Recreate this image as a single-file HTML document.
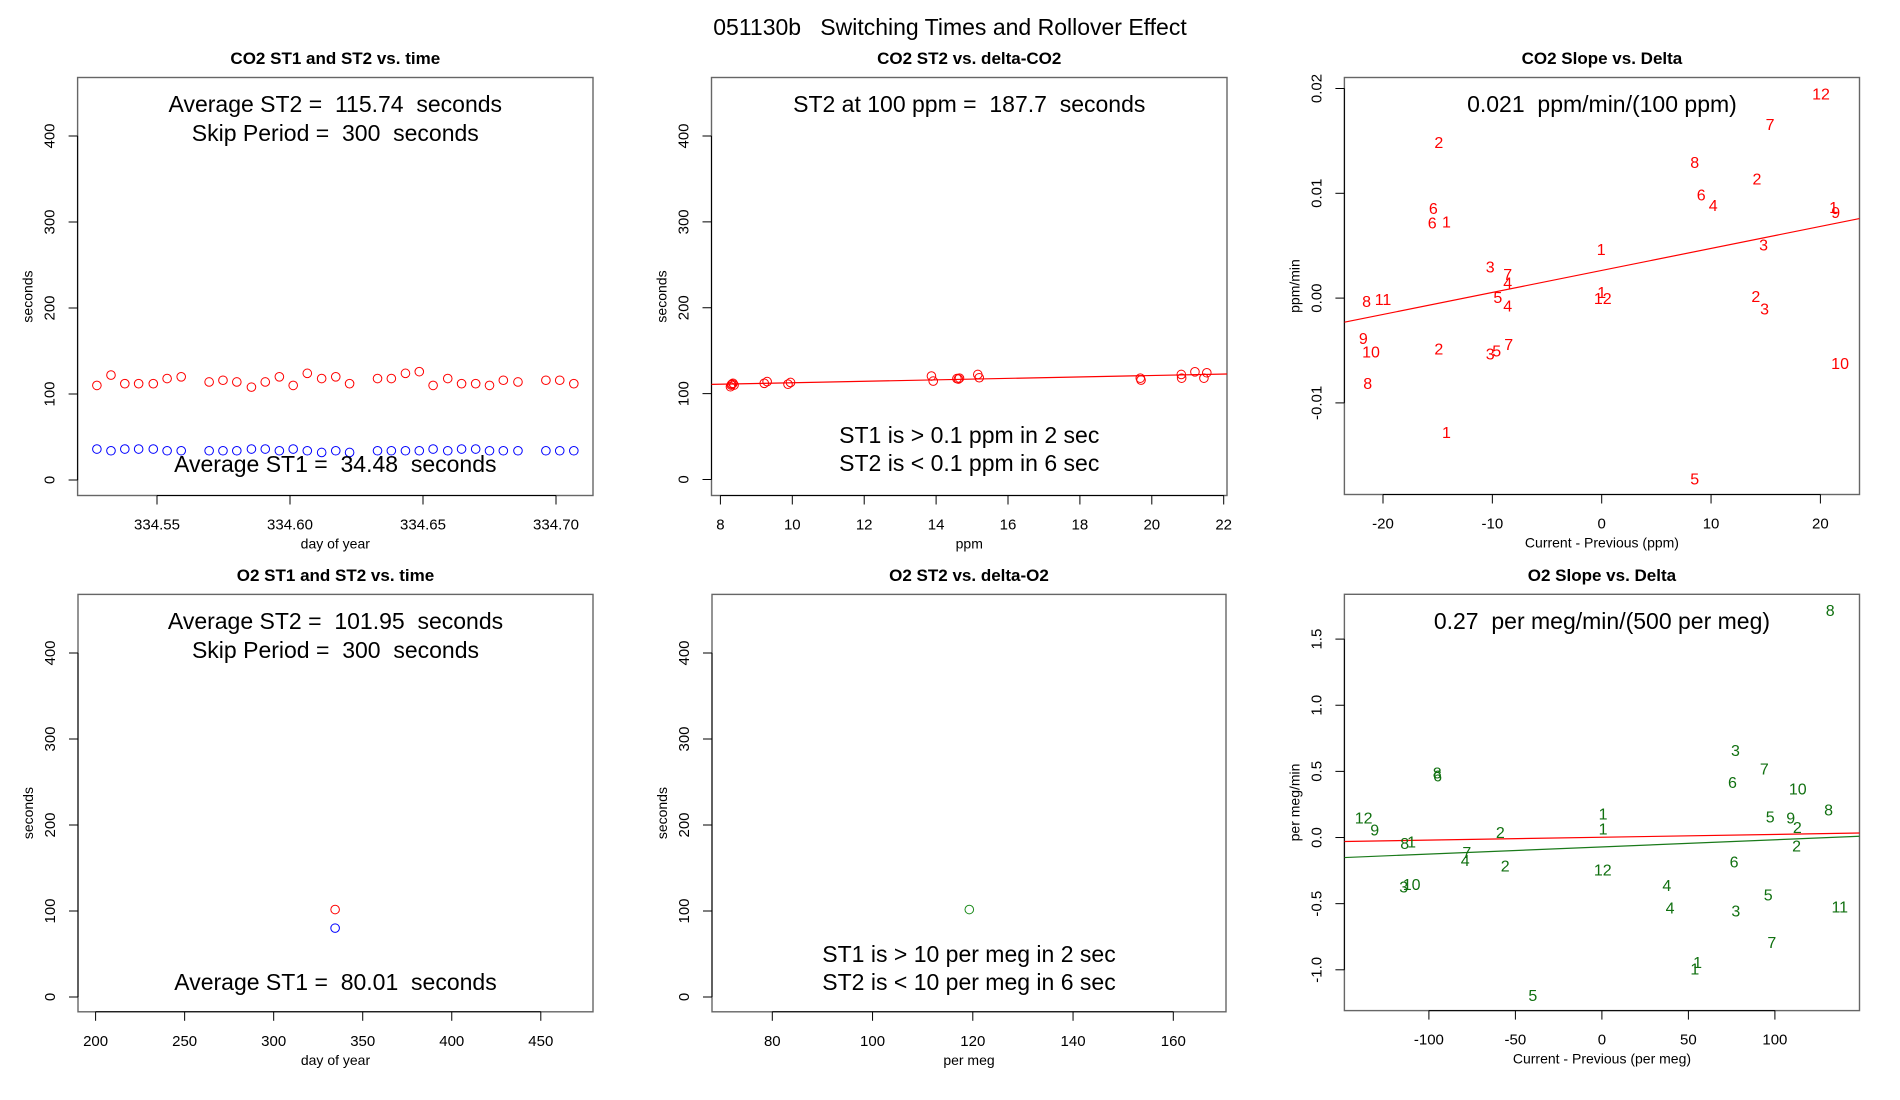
<!DOCTYPE html>
<html><head><meta charset="utf-8"><title>051130b Switching Times and Rollover Effect</title>
<style>
html,body{margin:0;padding:0;background:#fff;width:1900px;height:1100px;overflow:hidden}
svg{display:block;font-family:"Liberation Sans",sans-serif}
svg text{white-space:pre}
</style></head>
<body>
<svg id="fig" xmlns="http://www.w3.org/2000/svg" xml:space="preserve" width="1900" height="1100" viewBox="0 0 1900 1100">
<rect x="0" y="0" width="1900" height="1100" fill="#fff"/>
<text x="950" y="35" font-size="23" text-anchor="middle">051130b   Switching Times and Rollover Effect</text>
</svg>
<script>
// ---- Panel 1: CO2 ST1/ST2 vs time ----
const co2Days = [334.5274,334.5327,334.5379,334.5431,334.5486,334.5538,334.5591,334.5696,334.5748,334.5800,334.5855,334.5907,334.5960,334.6012,334.6065,334.6119,334.6172,334.6224,334.6329,334.6381,334.6434,334.6486,334.6538,334.6593,334.6645,334.6698,334.6750,334.6802,334.6857,334.6962,334.7014,334.7067];
const co2St2 = [110,122,112,112,112,118,120,114,116,114,108,114,120,110,124,118,120,112,118,118,124,126,110,118,112,112,110,116,114,116,116,112];
const co2St1 = [36,34,36,36,36,34,34,34,34,34,36,36,34,36,34,32,34,32,34,34,34,34,36,34,36,36,34,34,34,34,34,34];
const p1XTicks = [334.55,334.60,334.65,334.70];
const p1XTickLabels = ["334.55","334.60","334.65","334.70"];
const secTicks = [0,100,200,300,400];
const secTickLabels = ["0","100","200","300","400"];
// ---- Panel 2: CO2 ST2 vs delta ----
const co2Delta = [8.28,8.30,8.32,8.35,8.38,9.22,9.30,9.88,9.95,13.87,13.92,14.58,14.62,14.65,15.16,15.20,19.68,19.70,20.82,20.83,21.20,21.45,21.53];
const co2DeltaSt2 = [108,110,111,112,110,112,114,111,113,120.5,114.6,117.5,117,118,122.3,118.5,118,115.8,122.3,118,125.4,118,124.3];
const p2Fit = [104.2,0.846];
const p2XTicks = [8,10,12,14,16,18,20,22];
const p2XTickLabels = ["8","10","12","14","16","18","20","22"];
// ---- Panel 3: CO2 slope vs delta ----
const c3Labels = ["12","7","2","8","2","6","4","1","9","6","6","1","3","1","3","7","4","1","12","5","4","2","3","8","11","9","10","2","3","5","7","10","8","1","5"];
const c3X = [20.06,15.4,-14.9,8.5,14.2,9.1,10.2,21.2,21.4,-15.4,-15.5,-14.2,14.8,-0.05,-10.2,-8.6,-8.6,0,0.1,-9.5,-8.6,14.1,14.9,-21.5,-20.0,-21.8,-21.1,-14.9,-10.2,-9.6,-8.5,21.8,-21.4,-14.2,8.5];
const c3Y = [0.0195,0.0166,0.0149,0.0130,0.0114,0.0099,0.0089,0.0087,0.0082,0.0086,0.0072,0.0073,0.0051,0.0047,0.0030,0.0023,0.0015,0.0006,0.0000,0.0001,-0.0007,0.0002,-0.0010,-0.0003,-0.0001,-0.0038,-0.0051,-0.0048,-0.0053,-0.0050,-0.0044,-0.0062,-0.0081,-0.0128,-0.0172];
const p3Fit = [0.00264,0.00021];
const p3XTicks = [-20,-10,0,10,20];
const p3XTickLabels = ["-20","-10","0","10","20"];
const p3YTicks = [-0.01,0.00,0.01,0.02];
const p3YTickLabels = ["-0.01","0.00","0.01","0.02"];
// ---- Panel 4: O2 ST1/ST2 vs time ----
const o2Days = [334.5];
const o2St2 = [101.7];
const o2St1 = [80.1];
const p4XTicks = [200,250,300,350,400,450];
const p4XTickLabels = ["200","250","300","350","400","450"];
// ---- Panel 5: O2 ST2 vs delta ----
const o2Delta = [119.3];
const o2DeltaSt2 = [101.7];
const p5XTicks = [80,100,120,140,160];
const p5XTickLabels = ["80","100","120","140","160"];
// ---- Panel 6: O2 slope vs delta ----
const o6Labels = ["8","3","7","6","10","8","5","9","2","2","8","6","12","9","8","1","1","1","2","7","4","2","12","6","3","10","4","4","5","3","11","7","1","1","5"];
const o6X = [132,77.2,93.9,75.5,113.2,131,97.3,109.1,113,112.5,-95.2,-95,-137.7,-131.3,-114,-110,0.7,0.7,-58.7,-78.1,-79,-55.9,0.5,76.4,-114.6,-110,37.5,39.4,96.1,77.4,137.5,98.2,55.3,53.7,-39.9];
const o6Y = [1.72,0.66,0.52,0.42,0.37,0.21,0.16,0.15,0.08,-0.06,0.49,0.47,0.15,0.06,-0.04,-0.03,0.18,0.07,0.04,-0.11,-0.17,-0.21,-0.24,-0.18,-0.37,-0.35,-0.36,-0.53,-0.43,-0.55,-0.52,-0.79,-0.94,-0.99,-1.19];
const p6FitRed = [0.002,0.000215];
const p6FitGreen = [-0.071,0.00054];
const p6XTicks = [-100,-50,0,50,100];
const p6XTickLabels = ["-100","-50","0","50","100"];
const p6YTicks = [-1.0,-0.5,0.0,0.5,1.0,1.5];
const p6YTickLabels = ["-1.0","-0.5","0.0","0.5","1.0","1.5"];

const NS = "http://www.w3.org/2000/svg";
const svg = document.getElementById("fig");
function mk(tag, attrs, parent){
  const e = document.createElementNS(NS, tag);
  for (const k in attrs) e.setAttribute(k, attrs[k]);
  (parent||svg).appendChild(e);
  return e;
}
function lin(d0,d1,p0,p1){ return v => p0 + (v-d0)*(p1-p0)/(d1-d0); }

function panel(cfg){
  const g = mk("g", {});
  
  
  const [L,T,R,B] = cfg.box;
  const cid = cfg.name + "-clip";
  const cp = mk("clipPath", {id: cid}, g);
  mk("rect", {x:L, y:T, width:R-L, height:B-T}, cp);
  const t = mk("text", {x:(L+R)/2, y:cfg.titleY, "font-size":17, "font-weight":"bold", "text-anchor":"middle"}, g);
  t.textContent = cfg.title;
  
  
  const box = mk("rect", {x:L, y:T, width:R-L, height:B-T, fill:"none", stroke:"#666", "stroke-width":1.4}, g);
  
  
  const xa = mk("g", {}, g);
  
  
  const xs = cfg.xs, ys = cfg.ys;
  mk("line", {x1:xs(cfg.xTicks[0]), x2:xs(cfg.xTicks[cfg.xTicks.length-1]), y1:B, y2:B, stroke:"#000", "stroke-width":1}, xa);
  cfg.xTicks.forEach((v,i)=>{
    const x = xs(v);
    mk("line", {x1:x, x2:x, y1:B, y2:B+9, stroke:"#000", "stroke-width":1}, xa);
    const tl = mk("text", {x:x, y:B+34, "font-size":15, "text-anchor":"middle"}, xa);
    tl.textContent = cfg.xTickLabels[i];
    
    
  });
  const xl = mk("text", {x:(L+R)/2, y:B+53, "font-size":14, "text-anchor":"middle"}, g);
  xl.textContent = cfg.xLabel;
  
  
  const ya = mk("g", {}, g);
  
  
  mk("line", {x1:L, x2:L, y1:ys(cfg.yTicks[0]), y2:ys(cfg.yTicks[cfg.yTicks.length-1]), stroke:"#000", "stroke-width":1}, ya);
  cfg.yTicks.forEach((v,i)=>{
    const y = ys(v);
    mk("line", {x1:L-9, x2:L, y1:y, y2:y, stroke:"#000", "stroke-width":1}, ya);
    const tl = mk("text", {x:L-23, y:y, "font-size":15, "text-anchor":"middle", transform:`rotate(-90 ${L-23} ${y})`}, ya);
    tl.textContent = cfg.yTickLabels[i];
    
    
  });
  const yc = (T+B)/2 + (cfg.yLabelShift||0);
  const yl = mk("text", {x:L-45, y:yc, "font-size":14, "text-anchor":"middle", transform:`rotate(-90 ${L-45} ${yc})`}, g);
  yl.textContent = cfg.yLabel;
  
  
  const plot = mk("g", {"clip-path":`url(#${cid})`}, g);
  
  
  (cfg.notes||[]).forEach(n=>{
    const tx = mk("text", {x:(L+R)/2, y:n[1], "font-size":23, "text-anchor":"middle"}, g);
    tx.textContent = n[0];
    
    
  });
  return {g, plot, xs, ys, L, R};
}
function circles(p, xs, ys, color, name){
  xs.forEach((xv,i)=>{
    const c = mk("ellipse", {cx:p.xs(xv), cy:p.ys(ys[i]), rx:4.3, ry:4.3, fill:"none", stroke:color, "stroke-width":1}, p.plot);
    
    
  });
}
function fitLine(p, fit, color, name){
  const x0 = p.xs.inv(p.L), x1 = p.xs.inv(p.R);
  const l = mk("line", {x1:p.L, x2:p.R, y1:p.ys(fit[0]+fit[1]*x0), y2:p.ys(fit[0]+fit[1]*x1), stroke:color, "stroke-width":1.2}, p.plot);
  
  
}
function labels(p, labs, xs, ys, color, name){
  labs.forEach((s,i)=>{
    const t = mk("text", {x:p.xs(xs[i]), y:p.ys(ys[i])+6, "font-size":16, "text-anchor":"middle", fill:color}, p.plot);
    t.textContent = s;
    
    
  });
}
function scale(d0,d1,p0,p1){ const f = lin(d0,d1,p0,p1); f.inv = lin(p0,p1,d0,d1); return f; }

const P1 = panel({name:"co2-time-panel", title:"CO2 ST1 and ST2 vs. time", box:[77.6,77.5,593,495.5], titleY:64,
  xs:scale(334.55,334.70,157,556), ys:scale(0,400,480,136),
  xTicks:p1XTicks, xTickLabels:p1XTickLabels, yTicks:secTicks, yTickLabels:secTickLabels,
  xLabel:"day of year", yLabel:"seconds", yLabelShift:10,
  notes:[["Average ST2 =  115.74  seconds",112],["Skip Period =  300  seconds",141],["Average ST1 =  34.48  seconds",472]]});
circles(P1, co2Days, co2St2, "#ff0000", "st2-point");
circles(P1, co2Days, co2St1, "#0000ff", "st1-point");

const P2 = panel({name:"co2-delta-panel", title:"CO2 ST2 vs. delta-CO2", box:[711.5,77.5,1227,495.5], titleY:64,
  xs:scale(8,22,720.4,1223.7), ys:scale(0,400,479.5,136),
  xTicks:p2XTicks, xTickLabels:p2XTickLabels, yTicks:secTicks, yTickLabels:secTickLabels,
  xLabel:"ppm", yLabel:"seconds", yLabelShift:10,
  notes:[["ST2 at 100 ppm =  187.7  seconds",112],["ST1 is > 0.1 ppm in 2 sec",443],["ST2 is < 0.1 ppm in 6 sec",471]]});
fitLine(P2, p2Fit, "#ff0000", "regression-line");
circles(P2, co2Delta, co2DeltaSt2, "#ff0000", "st2-point");

const P3 = panel({name:"co2-slope-panel", title:"CO2 Slope vs. Delta", box:[1344.4,77.5,1859.5,494.5], titleY:64,
  xs:scale(-20,20,1383,1820.4), ys:scale(-0.01,0.02,402.9,88.5),
  xTicks:p3XTicks, xTickLabels:p3XTickLabels, yTicks:p3YTicks, yTickLabels:p3YTickLabels,
  xLabel:"Current - Previous (ppm)", yLabel:"ppm/min", yLabelShift:0,
  notes:[["0.021  ppm/min/(100 ppm)",112]]});
fitLine(P3, p3Fit, "#ff0000", "regression-line");
labels(P3, c3Labels, c3X, c3Y, "#ff0000", "slope-point-label");

const P4 = panel({name:"o2-time-panel", title:"O2 ST1 and ST2 vs. time", box:[78,594.4,593,1011.8], titleY:581,
  xs:scale(200,450,95.6,540.8), ys:scale(0,400,997,653),
  xTicks:p4XTicks, xTickLabels:p4XTickLabels, yTicks:secTicks, yTickLabels:secTickLabels,
  xLabel:"day of year", yLabel:"seconds", yLabelShift:10,
  notes:[["Average ST2 =  101.95  seconds",629],["Skip Period =  300  seconds",658],["Average ST1 =  80.01  seconds",990]]});
circles(P4, o2Days, o2St2, "#ff0000", "st2-point");
circles(P4, o2Days, o2St1, "#0000ff", "st1-point");

const P5 = panel({name:"o2-delta-panel", title:"O2 ST2 vs. delta-O2", box:[712,594.4,1226,1011.8], titleY:581,
  xs:scale(80,160,772.3,1173.3), ys:scale(0,400,997,653),
  xTicks:p5XTicks, xTickLabels:p5XTickLabels, yTicks:secTicks, yTickLabels:secTickLabels,
  xLabel:"per meg", yLabel:"seconds", yLabelShift:10,
  notes:[["ST1 is > 10 per meg in 2 sec",962],["ST2 is < 10 per meg in 6 sec",990]]});
circles(P5, o2Delta, o2DeltaSt2, "#1a8a1a", "st2-point");

const P6 = panel({name:"o2-slope-panel", title:"O2 Slope vs. Delta", box:[1344.4,594.3,1859.5,1010.6], titleY:581,
  xs:scale(-100,100,1428.9,1774.9), ys:scale(-1.0,1.5,969.8,639.1),
  xTicks:p6XTicks, xTickLabels:p6XTickLabels, yTicks:p6YTicks, yTickLabels:p6YTickLabels,
  xLabel:"Current - Previous (per meg)", yLabel:"per meg/min", yLabelShift:0,
  notes:[["0.27  per meg/min/(500 per meg)",629]]});
fitLine(P6, p6FitRed, "#ff0000", "regression-line-red");
fitLine(P6, p6FitGreen, "#1a7a1a", "regression-line-green");
labels(P6, o6Labels, o6X, o6Y, "#107010", "slope-point-label");
</script>
</body></html>
